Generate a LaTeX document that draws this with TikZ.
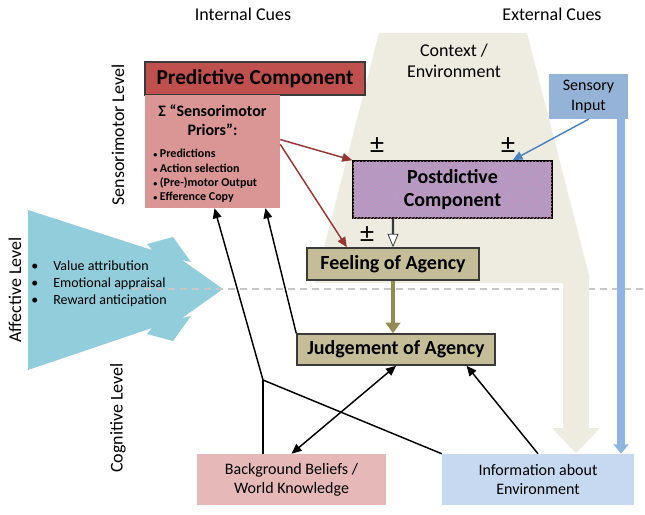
\documentclass[tikz,border=0pt]{standalone}
\usepackage{fontspec}
\setmainfont{Carlito}
\usetikzlibrary{arrows.meta,shapes.arrows,patterns.meta}

\newlength{\pxl}\setlength{\pxl}{0.75pt}
\newcommand{\smallbullet}{{\fontsize{6}{6}\selectfont\textbullet}}

\definecolor{predred}{HTML}{C0504D}
\definecolor{priorpink}{HTML}{D99694}
\definecolor{postpurple}{HTML}{ABA0CC}
\definecolor{hatchred}{HTML}{D48AA8}
\definecolor{agencytan}{HTML}{C4BD97}
\definecolor{bkgpink}{HTML}{E6B9B8}
\definecolor{infoblue}{HTML}{C6D9F1}
\definecolor{sensblue}{HTML}{95B3D7}
\definecolor{lineblue}{HTML}{8DB4E2}
\definecolor{arrowblue}{HTML}{4F81BD}
\definecolor{arrowred}{HTML}{953735}
\definecolor{arrowolive}{HTML}{948A54}
\definecolor{ctxbeige}{HTML}{EEECE1}
\definecolor{affblue}{HTML}{92CDDC}
\definecolor{levelgray}{HTML}{C8C8C8}
\definecolor{boxline}{HTML}{3A3A3A}

\tikzset{
  every node/.style={inner sep=0pt},
  cuetext/.style={font=\fontsize{13.5}{16}\selectfont, align=center},
  leveltext/.style={cuetext, rotate=90},
  headbox/.style={draw=boxline, line width=1.2pt, align=center,
    font=\fontsize{15}{17.5}\selectfont\bfseries},
  predbox/.style={headbox, fill=predred, font=\fontsize{16}{19}\selectfont\bfseries},
  priorbox/.style={fill=priorpink},
  postbox/.style={headbox, draw=black, fill=postpurple,
    postaction={pattern={Lines[angle=45,distance=1.8pt,line width=0.45pt]},
      pattern color=hatchred}},
  agencybox/.style={headbox, fill=agencytan},
  basebox/.style={align=center, font=\fontsize{12}{14.5}\selectfont},
  pmsign/.style={font=\fontsize{21}{21}\selectfont},
  hollowarrow/.style={single arrow, draw=boxline, fill=white, line width=0.6pt,
    minimum height=27\pxl, minimum width=10\pxl, single arrow head extend=2.8\pxl,
    single arrow tip angle=45, rotate=-90},
  redarrow/.style={draw=arrowred, line width=1.1pt, -{Triangle[length=7.5pt,width=6.5pt]}},
  bluearrow/.style={draw=arrowblue, line width=1.1pt, -{Triangle[length=7.5pt,width=6.5pt]}},
  blackline/.style={line width=1.1pt},
  blackarrow/.style={blackline, -{Triangle[length=7.5pt,width=6.5pt]}},
  sensline/.style={draw=lineblue, line width=6pt, -{Triangle[length=7pt,width=11pt]}},
  olivearrow/.style={draw=arrowolive, line width=3.5pt, -{Triangle[length=8pt,width=11pt]}},
}

\begin{document}
\begin{tikzpicture}[x=0.75pt, y=-0.75pt]
  \useasboundingbox (0,0) rectangle (645,514);

  % affective level
  \fill[affblue] (28,210) -- (152,250) -- (147,244) -- (173,237) -- (191,262)
    -- (182,260) -- (223,289) -- (182,318) -- (191,316) -- (173,341)
    -- (147,334) -- (152,328) -- (28,370) -- cycle;
  \draw[levelgray, line width=1.5pt, dash pattern=on 5.5pt off 3.5pt] (132,289) -- (645,289);

  % context / environment
  \fill[ctxbeige] (379,33) -- (527,33) -- (589,275) -- (589,428) -- (600,428)
    -- (576,453) -- (552,428) -- (563,428) -- (563,283) -- (315,283) -- cycle;

  \node[cuetext] (intcues) at (243,14) {Internal Cues};
  \node[cuetext] (extcues) at (552,14) {External Cues};
  \node[cuetext] (ctx) at (454,61) {Context /\\Environment};
  \node[leveltext] (senslevel) at (118,135) {Sensorimotor Level};
  \node[leveltext] (afflevel) at (15,290) {Affective Level};
  \node[leveltext] (coglevel) at (118,418) {Cognitive Level};

  \node[anchor=north west, align=left, font=\fontsize{10.5}{12.75}\selectfont] (affitems) at (31,260.5)
    {\makebox[22\pxl][l]{\textbullet}Value attribution\\
     \makebox[22\pxl][l]{\textbullet}Emotional appraisal\\
     \makebox[22\pxl][l]{\textbullet}Reward anticipation};

  \node[predbox, minimum width=220\pxl, minimum height=33\pxl] (pred) at (255,78.5) {Predictive Component};
  \node[priorbox, minimum width=135\pxl, minimum height=113\pxl] (priors) at (212.5,151.5) {};
  \node[anchor=north, align=center, font=\fontsize{12}{14.5}\selectfont\bfseries] (priortitle) at (212.5,104.5)
    {Σ “Sensorimotor\\Priors”:};
  \node[anchor=north west, align=left, font=\fontsize{9}{10.75}\selectfont\bfseries] (prioritems) at (153,149)
    {\smallbullet\ Predictions\\ \smallbullet\ Action selection\\
     \smallbullet\ (Pre-)motor Output\\ \smallbullet\ Efference Copy};

  \node[postbox, minimum width=199\pxl, minimum height=57\pxl] (post) at (452.5,189.5) {Postdictive\\Component};
  \node[agencybox, minimum width=172\pxl, minimum height=32\pxl] (feel) at (393,264) {Feeling of Agency};
  \node[agencybox, minimum width=198\pxl, minimum height=31\pxl] (judge) at (396,349.5) {Judgement of Agency};
  \node[basebox, fill=bkgpink, minimum width=189\pxl, minimum height=51\pxl] (bkg) at (291.5,479.5)
    {Background Beliefs /\\World Knowledge};
  \node[basebox, fill=infoblue, minimum width=192\pxl, minimum height=51\pxl] (info) at (538,479.5)
    {Information about\\Environment};
  \node[basebox, fill=sensblue, minimum width=79\pxl, minimum height=45\pxl] (sensory) at (588.5,96.5)
    {Sensory\\Input};

  \node[pmsign] (pmleft) at (377,146) {±};
  \node[pmsign] (pmright) at (508,146) {±};
  \node[pmsign] (pmfeel) at (367,235) {±};
  \node[hollowarrow] (postflow) at (393,232) {};

  \draw[redarrow] (priors.10) -- (post.north west);
  \draw[redarrow] (priors.6) -- (feel.160);
  \draw[bluearrow] (sensory.south) -- (post.26);
  \draw[sensline] (sensory.-35.5) -- (sensory.-35.5 |- info.north);
  \draw[olivearrow] (feel.south) -- (feel.south |- judge.north);

  \coordinate (merge) at (263,380);
  \draw[blackline] (merge |- bkg.north) -- (merge);
  \draw[blackline] (info.north west) -- (merge);
  \draw[blackarrow] (merge) -- (priors.-88);
  \draw[blackarrow] (judge.north west) -- (priors.-47);
  \draw[blackarrow, {Triangle[length=7.5pt,width=6.5pt]}-{Triangle[length=7.5pt,width=6.5pt]}] (bkg.north) -- (judge.south);
  \draw[blackarrow] (info.north) -- (judge.-13);
\end{tikzpicture}
\end{document}
